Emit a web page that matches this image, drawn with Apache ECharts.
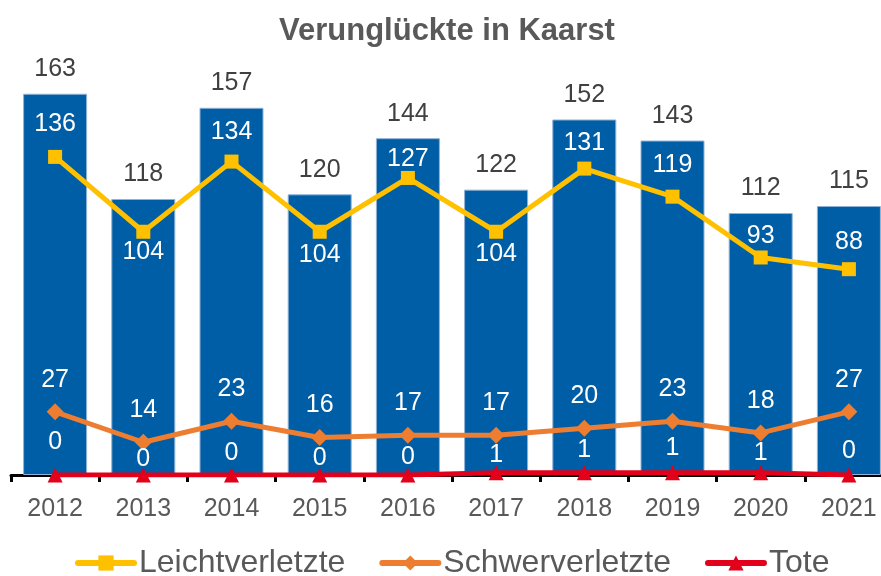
<!DOCTYPE html>
<html>
<head>
<meta charset="utf-8">
<script src="https://cdn.jsdelivr.net/npm/echarts@6/dist/echarts.min.js"></script>
<style>
html, body { margin: 0; padding: 0; background: #fff; overflow: hidden; }
#echarts { width: 893px; height: 576px; }
</style>
</head>
<body>
<div id="echarts"></div>
<script>
var years = ['2012', '2013', '2014', '2015', '2016', '2017', '2018', '2019', '2020', '2021'];
var gesamt = [163, 118, 157, 120, 144, 122, 152, 143, 112, 115];
var leicht = [136, 104, 134, 104, 127, 104, 131, 119, 93, 88];
var schwer = [27, 14, 23, 16, 17, 17, 20, 23, 18, 27];
var tote = [0, 0, 0, 0, 0, 1, 1, 1, 1, 0];

// vertical label shifts (px)
var leichtLabelDy = [-33, 20, -29, 23, -19, 22, -25, -32, -21, -27];
var toteLabelDy = [-33, -16, -22, -17, -18, -18, -23, -25, -20, -24];

var FONT = 'Liberation Sans';

function withLabelShift(values, shifts) {
    return values.map(function (v, i) {
        return { value: v, label: { offset: [0, shifts[i]] } };
    });
}

// the original chart is cut off at the right edge, so the canvas is a bit wider than the window
var myChart = echarts.init(document.getElementById('echarts'));

var option = {
    backgroundColor: '#fff',
    animation: false,
    textStyle: { fontFamily: FONT },
    title: {
        text: 'Verunglückte in Kaarst',
        left: 274,
        top: 11,
        textStyle: { fontFamily: FONT, fontSize: 31, fontWeight: 'bold', color: '#595959' }
    },
    legend: {
        left: 75,
        top: 547,
        padding: 0,
        itemWidth: 56,
        itemHeight: 19,
        itemGap: 34,
        lineStyle: { width: 6, cap: 'round' },
        data: ['Leichtverletzte', 'Schwerverletzte', 'Tote'],
        textStyle: { fontFamily: FONT, fontSize: 32, color: '#595959' }
    },
    grid: {
        left: 11,
        top: 54,
        right: 0,
        bottom: 101,
        containLabel: false
    },
    xAxis: {
        type: 'category',
        data: years,
        boundaryGap: true,
        axisLine: { lineStyle: { color: '#000', width: 3 } },
        axisTick: { show: true, length: 7, lineStyle: { color: '#000', width: 3 } },
        axisLabel: { margin: 22, fontFamily: FONT, fontSize: 25, color: '#595959' }
    },
    yAxis: {
        type: 'value',
        min: 0,
        max: 180,
        show: false,
        splitLine: { show: false }
    },
    series: [
        {
            name: 'Gesamt',
            type: 'bar',
            data: gesamt,
            barWidth: 64,
            itemStyle: { color: '#005EA6', borderColor: '#8FB2D6', borderWidth: 1 },
            label: {
                show: true,
                position: 'top',
                distance: 12,
                fontFamily: FONT,
                fontSize: 25,
                color: '#404040'
            },
            z: 1
        },
        {
            name: 'Leichtverletzte',
            type: 'line',
            data: withLabelShift(leicht, leichtLabelDy),
            symbol: 'rect',
            symbolSize: 14,
            lineStyle: { color: '#FFC000', width: 5 },
            itemStyle: { color: '#FFC000' },
            label: {
                show: true,
                position: 'inside',
                fontFamily: FONT,
                fontSize: 25,
                color: '#fff'
            },
            z: 3
        },
        {
            name: 'Schwerverletzte',
            type: 'line',
            data: schwer,
            symbol: 'diamond',
            symbolSize: 17,
            lineStyle: { color: '#ED7D31', width: 5 },
            itemStyle: { color: '#ED7D31' },
            label: {
                show: true,
                position: 'inside',
                offset: [0, -32],
                fontFamily: FONT,
                fontSize: 25,
                color: '#fff'
            },
            z: 3
        },
        {
            name: 'Tote',
            type: 'line',
            data: withLabelShift(tote, toteLabelDy),
            symbol: 'triangle',
            symbolSize: 15,
            lineStyle: { color: '#E2001A', width: 5 },
            itemStyle: { color: '#E2001A' },
            label: {
                show: true,
                position: 'inside',
                fontFamily: FONT,
                fontSize: 25,
                color: '#fff'
            },
            z: 4
        }
    ]
};
myChart.setOption(option);
</script>
</body>
</html>
